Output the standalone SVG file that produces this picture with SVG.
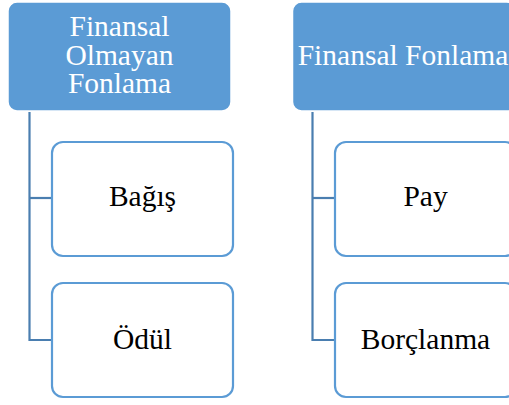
<svg xmlns="http://www.w3.org/2000/svg" width="509" height="405" viewBox="0 0 509 405">
<style>
.root{fill:#5B9BD5;stroke:#ffffff;stroke-width:1.5}
.child{fill:#ffffff;stroke:#5B9BD5;stroke-width:2.2}
.conn{fill:none;stroke:#4A7EB0;stroke-width:2.2}
.rt{font-family:"Liberation Serif",serif;font-size:29.5px;fill:#ffffff;text-anchor:middle}
.ct{font-family:"Liberation Serif",serif;font-size:29.5px;fill:#000000;text-anchor:middle}
</style>
<rect width="509" height="405" fill="#ffffff"/>
<g id="connectors">
<path class="conn" d="M29.5 112 V340 H52"/>
<path class="conn" d="M29.5 198 H52"/>
<path class="conn" d="M312.5 112 V340 H335"/>
<path class="conn" d="M312.5 198 H335"/>
</g>
<g id="n1">
<rect class="root" x="8" y="2" width="223" height="109" rx="9"/>
<text class="rt" x="119.5" y="36">Finansal</text>
<text class="rt" x="119.5" y="64.5">Olmayan</text>
<text class="rt" x="119.5" y="93">Fonlama</text>
</g>
<g id="n2">
<rect class="child" x="52" y="142" width="181" height="114" rx="11"/>
<text class="ct" x="142.5" y="206">Bağış</text>
</g>
<g id="n3">
<rect class="child" x="52" y="283" width="181" height="114" rx="11"/>
<text class="ct" x="142.5" y="349">Ödül</text>
</g>
<g id="n4">
<rect class="root" x="292.5" y="2" width="223" height="109" rx="9"/>
<text class="rt" x="403" y="64.5">Finansal Fonlama</text>
</g>
<g id="n5">
<rect class="child" x="335" y="142" width="181" height="114" rx="11"/>
<text class="ct" x="425.5" y="206">Pay</text>
</g>
<g id="n6">
<rect class="child" x="335" y="283" width="181" height="114" rx="11"/>
<text class="ct" x="425.5" y="349">Borçlanma</text>
</g>
</svg>
